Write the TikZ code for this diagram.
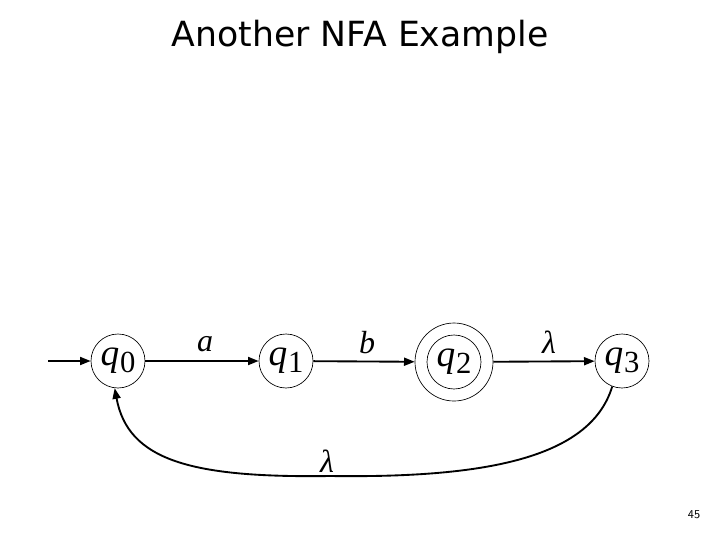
\documentclass[tikz,border=0pt]{standalone}
\usepackage{fontspec}
\newfontfamily\titlefont{DejaVu Sans}
\newfontfamily\tms{Liberation Serif}
\usetikzlibrary{arrows.meta}
\newcommand{\stlabel}[1]{{\tms\fontsize{28}{28}\selectfont\itshape q}\kern0.5pt\raisebox{-5pt}{\tms\fontsize{23}{23}\selectfont #1}}
\tikzset{
  state/.style={circle, draw, line width=0.5pt, minimum size=40.5pt, inner sep=0pt},
  trans/.style={line width=1.4pt, -{Triangle[length=8pt,width=6pt]}},
  lbl/.style={font=\tms\itshape\fontsize{24}{24}\selectfont}
}
\begin{document}
\begin{tikzpicture}[x=0.75pt,y=-0.75pt]
\useasboundingbox (0,0) rectangle (720,540);
\node[font=\titlefont\fontsize{26}{30}\selectfont] (title) at (360,37) {Another NFA Example};
\node[font=\sffamily\fontsize{9}{11}\selectfont] (page) at (694,515) {45};
\node[state] (q0) at (118,361) {\stlabel{0}};
\node[state] (q1) at (286,361) {\stlabel{1}};
\node[state, minimum size=58.5pt] (q2) at (454,362) {};
\node[state] (q2i) at (454,362) {\stlabel{2}};
\node[state] (q3) at (622,361) {\stlabel{3}};
\coordinate (start) at (48,361);
\coordinate (bottom) at (330,476);
\node[lbl] (la) at (205,344) {a};
\node[lbl] (lb) at (367,343) {b};
\node[lbl] (ll1) at (549,342) {λ};
\node[lbl] (ll2) at (327,461) {λ};
\draw[trans] (start) -- (q0);
\draw[trans] (q0) -- (q1);
\draw[trans] (q1) -- (q2);
\draw[trans] (q2) -- (q3);
\draw[trans] (q3.-111) .. controls (590,460) and (480,478) .. (bottom)
  .. controls (190,478) and (128,460) .. (q0.-97);
\end{tikzpicture}
\end{document}
